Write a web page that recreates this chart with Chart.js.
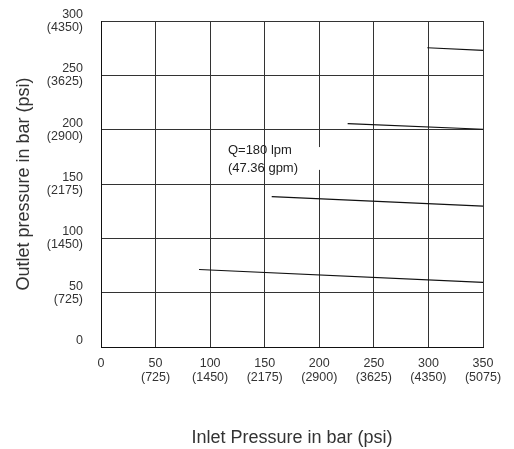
<!DOCTYPE html>
<html>
<head>
<meta charset="utf-8">
<script src="https://cdn.jsdelivr.net/npm/chart.js@4.4.0/dist/chart.umd.min.js"></script>
<style>
    html, body { margin: 0; padding: 0; background: #fff; }
    #wrap { width: 514px; height: 449px; }
</style>
</head>
<body>
<div id="wrap"><canvas id="grafikTekanan" width="514" height="449"></canvas></div>
<script>
// ===============================
// Data grafik
// ===============================
const xTickBar = [0, 50, 100, 150, 200, 250, 300, 350];
const xTickPsi = ["", "(725)", "(1450)", "(2175)", "(2900)", "(3625)", "(4350)", "(5075)"];
const yTickBar = [0, 50, 100, 150, 200, 250, 300];
const yTickPsi = ["", "(725)", "(1450)", "(2175)", "(2900)", "(3625)", "(4350)"];

// tiap garis: titik awal dan titik akhir (inlet, outlet)
const garis1Inlet = [299, 350];
const garis1Outlet = [275.4, 273.0];
const garis2Inlet = [226, 350];
const garis2Outlet = [205.6, 200.4];
const garis3Inlet = [156.4, 350];
const garis3Outlet = [138.3, 129.6];
const garis4Inlet = [89.8, 350];
const garis4Outlet = [71.3, 59.4];

const catatanTeks = ["Q=180 lpm", "(47.36 gpm)"];

const FONT = "'Liberation Sans', Arial, Helvetica, sans-serif";

function toPoints(xs, ys) {
    return xs.map((x, i) => ({ x: x, y: ys[i] }));
}

function buatDataset(xs, ys) {
    return {
        data: toPoints(xs, ys),
        borderColor: "#111",
        borderWidth: 1.2,
        pointRadius: 0,
        showLine: true,
        fill: false,
        tension: 0
    };
}

// ===============================
// Plugin catatan Q=180 lpm
// ===============================
const pluginCatatan = {
    id: "catatan",
    afterDraw(chart) {
        const ctx = chart.ctx;
        const sx = chart.scales.x;
        const sy = chart.scales.y;
        ctx.save();
        // celah putih pada garis grid x=200
        const x0 = sx.getPixelForValue(197);
        const x1 = sx.getPixelForValue(203);
        const y0 = sy.getPixelForValue(184);
        const y1 = sy.getPixelForValue(163);
        ctx.fillStyle = "#fff";
        ctx.fillRect(x0, y0, x1 - x0, y1 - y0);

        ctx.fillStyle = "#222";
        ctx.font = "13px " + FONT;
        ctx.textAlign = "left";
        ctx.textBaseline = "middle";
        ctx.fillText(catatanTeks[0], sx.getPixelForValue(116.3), sy.getPixelForValue(181.3));
        ctx.fillText(catatanTeks[1], sx.getPixelForValue(116.3), sy.getPixelForValue(164.5));
        ctx.restore();
    }
};

// ===============================
// Grafik tekanan
// ===============================
function loadGrafikTekanan() {
    const ctx = document.getElementById("grafikTekanan");

    new Chart(ctx, {
        type: "scatter",
        data: {
            datasets: [
                buatDataset(garis1Inlet, garis1Outlet),
                buatDataset(garis2Inlet, garis2Outlet),
                buatDataset(garis3Inlet, garis3Outlet),
                buatDataset(garis4Inlet, garis4Outlet)
            ]
        },
        options: {
            responsive: false,
            animation: false,
            layout: { padding: { left: 0, top: 21, right: 31, bottom: 0 } },
            plugins: {
                legend: { display: false },
                tooltip: { enabled: false }
            },
            scales: {
                x: {
                    type: "linear",
                    min: 0,
                    max: 350,
                    afterBuildTicks: s => { s.ticks = xTickBar.map(v => ({ value: v })); },
                    afterFit: s => { s.height = 102; },
                    grid: { color: "#333", lineWidth: 1, drawTicks: false },
                    border: { color: "#111", width: 1 },
                    ticks: {
                        padding: 10,
                        color: "#333",
                        font: { family: FONT, size: 12.5, lineHeight: "14px" },
                        maxRotation: 0,
                        autoSkip: false,
                        callback: function (v) {
                            const i = xTickBar.indexOf(v);
                            return xTickPsi[i] ? [String(v), xTickPsi[i]] : String(v);
                        }
                    },
                    title: {
                        display: true,
                        text: "Inlet Pressure in bar (psi)",
                        color: "#333",
                        font: { family: FONT, size: 18, lineHeight: 1.2 },
                        padding: { top: 0, bottom: 0 }
                    }
                },
                y: {
                    type: "linear",
                    min: 0,
                    max: 300,
                    afterBuildTicks: s => { s.ticks = yTickBar.map(v => ({ value: v })); },
                    afterFit: s => {
                        s.width = 101;
                        // jangan biarkan padding label mendorong area grafik ke bawah
                        s.paddingTop = 10;
                        s.paddingBottom = 10;
                    },
                    grid: { color: "#333", lineWidth: 1, drawTicks: false },
                    border: { color: "#111", width: 1 },
                    ticks: {
                        padding: 18,
                        color: "#333",
                        font: { family: FONT, size: 12.5, lineHeight: "13px" },
                        autoSkip: false,
                        callback: function (v) {
                            const i = yTickBar.indexOf(v);
                            return [String(v), yTickPsi[i]];
                        }
                    },
                    title: {
                        display: true,
                        text: "Outlet pressure in bar (psi)",
                        color: "#333",
                        font: { family: FONT, size: 18, lineHeight: 1.2 },
                        padding: { top: 13, bottom: 0 }
                    }
                }
            }
        },
        plugins: [pluginCatatan]
    });
}

document.addEventListener("DOMContentLoaded", loadGrafikTekanan);
</script>
</body>
</html>
